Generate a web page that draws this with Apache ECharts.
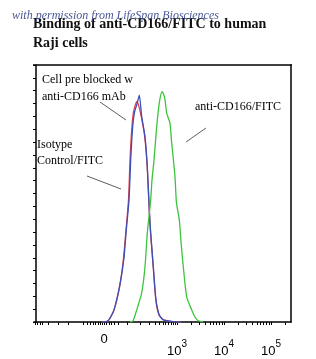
<!DOCTYPE html>
<html><head><meta charset="utf-8">
<script src="https://cdn.jsdelivr.net/npm/echarts@6/dist/echarts.min.js"></script>
<style>html,body{margin:0;padding:0;background:#fff}#c{width:316px;height:359px}</style>
</head><body><div id="c"></div>
<script>
// x axis in decade units (10^3 -> 3); biexponential display, "0" sits at 1.447
var xMajorValues = [1.447, 3, 4, 5];
var xMajorLabels = ['0', '3', '4', '5'];
var xMinorValues = [-0.02, 0.03, 0.09, 0.14, 0.25, 0.48, 0.69, 1.01, 1.09, 1.16, 1.22, 1.27, 1.32, 1.36, 1.40,
  1.50, 1.55, 1.60, 1.67, 1.76, 1.94, 2.22, 2.42, 2.54, 2.63, 2.70, 2.75, 2.81, 2.87, 2.91, 2.96,
  3.301, 3.477, 3.602, 3.699, 3.778, 3.845, 3.903, 3.954,
  4.301, 4.477, 4.602, 4.699, 4.778, 4.845, 4.903, 4.954, 5.301];

var isotype = [[1.398,0],[1.532,0.4],[1.66,4.7],[1.787,14.8],[1.872,24.9],[1.915,34.6],[1.979,47.5],[2.015,63.0],[2.057,76.0],[2.096,81.7],[2.149,84.8],[2.198,88.3],[2.249,79.9],[2.319,72.1],[2.368,60.4],[2.411,43.6],[2.44,34.6],[2.496,21.5],[2.553,8.6],[2.623,2.7],[2.709,0.8],[2.915,0.12],[3.1,0]];
var blocked = [[1.398,0],[1.532,0.4],[1.66,4.7],[1.787,14.4],[1.862,24.9],[1.909,34.6],[1.968,47.5],[2.0,63.0],[2.036,74.7],[2.074,81.7],[2.143,85.7],[2.181,84.4],[2.24,79.9],[2.313,72.1],[2.366,60.4],[2.409,43.6],[2.438,34.6],[2.494,21.5],[2.549,8.6],[2.617,2.7],[2.702,1.0],[2.766,0.6],[2.894,0.12],[3.085,0]];
var antiCD166 = [[2.0,0],[2.064,0.4],[2.143,4.7],[2.249,11.3],[2.319,21.5],[2.368,34.6],[2.44,47.5],[2.468,55.3],[2.511,63.0],[2.568,76.0],[2.623,85.2],[2.681,89.6],[2.713,88.7],[2.745,86.4],[2.781,81.3],[2.815,79.4],[2.851,77.4],[2.887,69.6],[2.909,65.8],[2.957,56.5],[2.989,46.3],[3.049,39.7],[3.091,30.0],[3.134,21.5],[3.206,9.8],[3.313,4.7],[3.383,1.95],[3.453,0.5],[3.553,0]];

var serif = '"Liberation Serif","DejaVu Serif",serif';
var sans = '"Liberation Sans", Arial, sans-serif';
var chart = echarts.init(document.getElementById('c'), null, {renderer: 'canvas'});
function lineSeries(name, data, color) {
  return {name: name, type: 'line', data: data, showSymbol: false, smooth: 0.2,
    lineStyle: {color: color, width: 1.3}, itemStyle: {color: color}, z: 3};
}
chart.setOption({
  animation: false,
  backgroundColor: '#fff',
  title: [
    {text: 'Binding of anti-CD166/FITC to human\nRaji cells', left: 33, top: 15, padding: 0,
     textStyle: {fontFamily: serif, fontWeight: 'bold', fontSize: 14, lineHeight: 19, color: '#111'}},
    {text: 'with permission from LifeSpan Biosciences', left: 12, top: 10, padding: 0,
     textStyle: {fontFamily: serif, fontStyle: 'italic', fontWeight: 'normal', fontSize: 12, color: '#4a5896'}}
  ],
  grid: {left: 34, top: 65, width: 257, height: 257},
  xAxis: {type: 'value', min: -0.043, max: 5.426, splitLine: {show: false},
     axisLine: {lineStyle: {color: '#000', width: 1.5}, onZero: false},
     axisTick: {show: true, customValues: xMajorValues.concat(xMinorValues), length: 3, lineStyle: {color: '#000', width: 1}},
     axisLabel: {customValues: xMajorValues, margin: 11, color: '#000',
       formatter: function (v) {
         var i = xMajorValues.indexOf(v);
         var t = xMajorLabels[i];
         return t === '0' ? '{z|0}' : '{b|10}{s|' + t + '}';
       },
       rich: {
         z: {fontFamily: sans, fontSize: 13, color: '#000', padding: [0, 0, 6, 0]},
         b: {fontFamily: sans, fontSize: 13, color: '#000', padding: [12, 0, 0, 0]},
         s: {fontFamily: sans, fontSize: 10, color: '#000', padding: [0, 0, 3, 0]}
       }}},
  yAxis: [
    {type: 'value', min: 0, max: 100, interval: 5, splitLine: {show: false},
     axisLine: {show: true, lineStyle: {color: '#000', width: 1.5}},
     axisTick: {show: true, length: 3, lineStyle: {color: '#000', width: 1}},
     axisLabel: {show: false}},
    {type: 'value', min: 0, max: 100, position: 'right', splitLine: {show: false},
     axisLine: {show: true, lineStyle: {color: '#000', width: 1.5}},
     axisTick: {show: false}, axisLabel: {show: false}}
  ],
  series: [
    lineSeries('Cell pre blocked w anti-CD166 mAb', blocked, '#e0404a'),
    lineSeries('Isotype Control/FITC', isotype, '#3a4fb8'),
    lineSeries('anti-CD166/FITC', antiCD166, '#3cc43c')
  ],
  graphic: [
    {type: 'text', left: 42, top: 71, style: {text: 'Cell pre blocked w\nanti-CD166 mAb', font: '12px ' + serif, lineHeight: 17, fill: '#000'}},
    {type: 'text', left: 37, top: 137, style: {text: 'Isotype\nControl/FITC', font: '12px ' + serif, lineHeight: 16, fill: '#000'}},
    {type: 'text', left: 195, top: 101, style: {text: 'anti-CD166/FITC', font: '12px ' + serif, fill: '#000'}},
    {type: 'line', shape: {x1: 100, y1: 102, x2: 126, y2: 120}, style: {stroke: '#333', lineWidth: 0.8}},
    {type: 'line', shape: {x1: 87, y1: 176, x2: 121, y2: 189}, style: {stroke: '#333', lineWidth: 0.8}},
    {type: 'line', shape: {x1: 186, y1: 142, x2: 206, y2: 128}, style: {stroke: '#333', lineWidth: 0.8}},
    {type: 'line', shape: {x1: 33, y1: 65, x2: 292, y2: 65}, style: {stroke: '#000', lineWidth: 1.5}}
  ]
});
</script></body></html>
